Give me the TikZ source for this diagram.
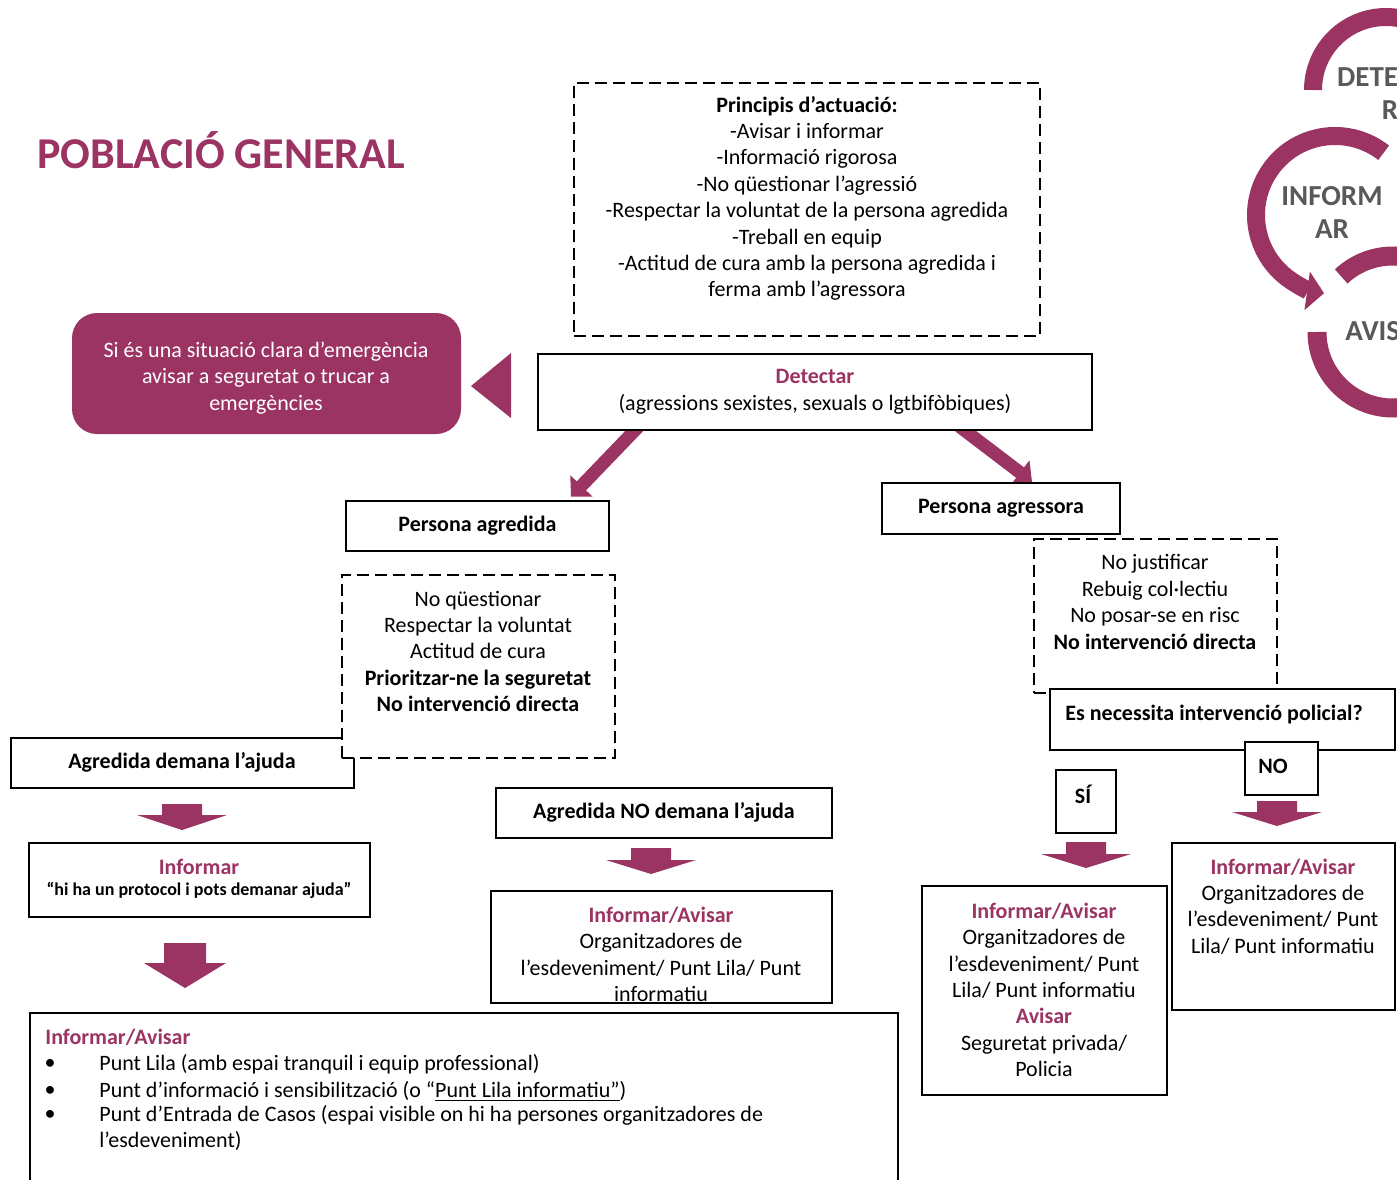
\documentclass[tikz,border=0pt]{standalone}
\usepackage{fontspec}
\setmainfont{Carlito}
\usetikzlibrary{arrows.meta,calc,fit,backgrounds}
\definecolor{lila}{RGB}{155,51,99}
\definecolor{grisos}{RGB}{89,89,89}
\tikzset{
  caixa/.style={draw, line width=1.3pt, fill=white, inner sep=0pt},
  caixaguio/.style={caixa, dash pattern=on 6pt off 3pt},
  txt/.style={align=center, inner sep=0pt, yshift=-1.2pt, font=\fontsize{11}{13.2}\selectfont},
  fletxa/.style={lila, line width=6.5pt, -{Triangle[width=15pt,length=7.5pt]}},
  anell/.style={lila, line width=9pt, -{Triangle[width=19pt,length=8.5pt]}},
  cercle/.style={grisos, align=center, inner sep=0pt, font=\fontsize{14.5}{16.5}\selectfont\bfseries},
}
\begin{document}
\begin{tikzpicture}[x=0.5pt, y=-0.5pt]
\useasboundingbox (0,0) rectangle (1397,1179);
\clip (0,0) rectangle (1397,1179);
% titol
\node [anchor=west, inner sep=0pt, lila, font=\fontsize{22}{26}\selectfont\bfseries] (titol) at (37,150) {POBLACIÓ GENERAL};
% principis
\node [caixaguio, fit={(574,83) (1040,336)}] (pri) {};
\node [txt] (pritxt) at (807,196) {\textbf{Principis d’actuació:}\\-Avisar i informar\\-Informació rigorosa\\-No qüestionar l’agressió\\-Respectar la voluntat de la persona agredida\\-Treball en equip\\-Actitud de cura amb la persona agredida i\\ferma amb l’agressora};
% emergencia
\node [fill=lila, rounded corners=12.5pt, inner sep=0pt, fit={(72,313) (461,434)}] (emerg) {};
\node [txt, white] (emergtxt) at (266,375.5) {Si és una situació clara d’emergència\\avisar a seguretat o trucar a\\emergències};
\fill[lila] (511,353) -- (471,386) -- (511,418) -- cycle;
% detectar
\node [caixa, fit={(538,354) (1092,430)}] (det) {};
\node [txt] (dettxt) at (815,389.5) {\textcolor{lila}{\bfseries Detectar}\\(agressions sexistes, sexuals o lgtbifòbiques)};
% persona agredida
\node [caixa, fit={(346,501) (609,551)}] (pagr) {};
\node [txt, font=\fontsize{11}{13.2}\selectfont\bfseries] at (477.5,523) {Persona agredida};
\node [caixa, fit={(11,738) (354,788)}] (demana) {};
\node [txt, font=\fontsize{11}{13.2}\selectfont\bfseries] at (182,760) {Agredida demana l’ajuda};
\node [caixaguio, fit={(342,575) (615,758)}] (pagrguio) {};
\node [txt] at (478,649) {No qüestionar\\Respectar la voluntat\\Actitud de cura\\\textbf{Prioritzar-ne la seguretat}\\\textbf{No intervenció directa}};
\node [caixa, fit={(496,788) (832,838)}] (nodemana) {};
\node [txt, font=\fontsize{11}{13.2}\selectfont\bfseries] at (664,810) {Agredida NO demana l’ajuda};
% persona agressora
\node [caixa, fit={(882,483) (1120,534)}] (pagrs) {};
\node [txt, font=\fontsize{11}{13.2}\selectfont\bfseries] at (1001,506) {Persona agressora};
\node [caixaguio, fit={(1034,539) (1277,693)}] (pagrsguio) {};
\node [txt] at (1155,599.5) {No justificar\\Rebuig col·lectiu\\No posar-se en risc\\\textbf{No intervenció directa}};
\node [caixa, fit={(1050,689) (1395,750)}] (pol) {};
\node [anchor=west, inner sep=0pt, yshift=-1.2pt, font=\fontsize{11}{13.2}\selectfont\bfseries] at (1065,712) {Es necessita intervenció policial?};
\node [caixa, fit={(1245,742) (1318,795)}] (no) {};
\node [txt, font=\fontsize{11}{13.2}\selectfont\bfseries] at (1273,764) {NO};
\node [caixa, fit={(1056,770) (1116,833)}] (si) {};
\node [txt, font=\fontsize{11}{13.2}\selectfont\bfseries] at (1083,792) {SÍ};
% informar
\node [caixa, fit={(29,843) (370,917)}] (inf) {};
\node [txt] at (199,865) {\textcolor{lila}{\bfseries Informar}};
\node [txt, font=\fontsize{9}{11}\selectfont\bfseries] at (199,888) {“hi ha un protocol i pots demanar ajuda”};
\node [caixa, fit={(491,891) (832,1003)}] (infno) {};
\node [txt] at (661,952) {\textcolor{lila}{\bfseries Informar/Avisar}\\Organitzadores de\\l’esdeveniment/ Punt Lila/ Punt\\informatiu};
\node [caixa, fit={(922,886) (1167,1095)}] (infsi) {};
\node [txt] at (1044,987.5) {\textcolor{lila}{\bfseries Informar/Avisar}\\Organitzadores de\\l’esdeveniment/ Punt\\Lila/ Punt informatiu\\\textcolor{lila}{\bfseries Avisar}\\Seguretat privada/\\Policia};
\node [caixa, fit={(1172,843) (1395,1010)}] (infpol) {};
\node [txt] at (1283,904) {\textcolor{lila}{\bfseries Informar/Avisar}\\Organitzadores de\\l’esdeveniment/ Punt\\Lila/ Punt informatiu};
% punts
\node [caixa, fit={(30,1013) (898,1200)}] (punts) {};
\node [anchor=west, inner sep=0pt, yshift=-1.2pt, lila, font=\fontsize{11}{13.2}\selectfont\bfseries] at (45,1035) {Informar/Avisar};
\foreach \y in {1062,1089,1113}
  \node [txt] at (50,\y) {•};
\node [anchor=west, txt] at (99,1062) {Punt Lila (amb espai tranquil i equip professional)};
\node [anchor=west, txt] at (99,1089) {Punt d’informació i sensibilització (o “\underline{Punt Lila informatiu”})};
\node [anchor=west, txt] at (99,1113) {Punt d’Entrada de Casos (espai visible on hi ha persones organitzadores de};
\node [anchor=west, txt] at (99,1139) {l’esdeveniment)};
% fletxes avall
\foreach \cx/\ty/\sw/\hw/\sl/\hl in {182/804/20/45/11/15, 185/943/21/41/20/25, 651/848/20/45/12/14, 1086/842/20/45/12/14, 1277/801/20/45/11/14}
  \fill[lila] (\cx-\sw,\ty) -- (\cx+\sw,\ty) -- (\cx+\sw,\ty+\sl) -- (\cx+\hw,\ty+\sl) -- (\cx,\ty+\sl+\hl) -- (\cx-\hw,\ty+\sl) -- (\cx-\sw,\ty+\sl) -- cycle;
% fletxes diagonals
\begin{scope}[on background layer]
\draw[fletxa] ([xshift=51pt,yshift=2.5pt]det.south west) -- ([xshift=46.75pt,yshift=1.5pt]pagr.north);
\draw[fletxa] ([xshift=-67pt,yshift=2.5pt]det.south east) -- ([xshift=15.5pt]pagrs.north);
\end{scope}
% cercles
\draw[anell] (1313,90) arc[start angle=180, end angle=-80, radius=36.5pt];
\node [cercle] at (1390,93.5) {DETECTA\\R};
\draw[anell] ($(1335,215)+(52:39.5pt)$) arc[start angle=52, end angle=262, radius=39.5pt];
\node [cercle] at (1332,212) {INFORM\\AR};
\draw[lila, line width=9.5pt] ($(1393,332)+(133:38pt)$) arc[start angle=133, end angle=-180, radius=38pt];
\node [cercle, anchor=west] at (1345,331) {AVISAR};
\end{tikzpicture}
\end{document}
